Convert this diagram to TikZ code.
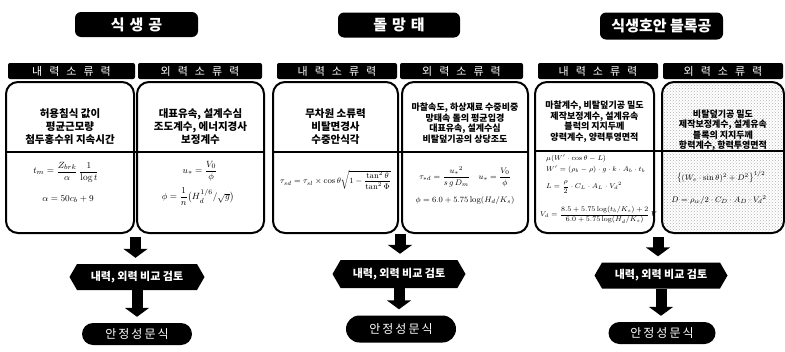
\documentclass[tikz,border=0pt]{standalone}
\usepackage{fontspec}
\usepackage{amsmath}
\newfontfamily\kr{Noto Sans CJK KR}
\usetikzlibrary{shapes.symbols,shapes.misc,calc,arrows.meta,patterns}
\newcommand\ksp{\kern7pt}
\begin{document}
\begin{tikzpicture}[x=1pt,y=-1pt,
  titlebox/.style={fill=black, rounded corners=6pt, text=white, font=\kr\bfseries\fontsize{15}{15}\selectfont, inner sep=0pt, minimum height=25pt},
  subbox/.style={fill=black, rounded corners=2pt, text=white, font=\kr\fontsize{11}{11}\selectfont, minimum height=16pt, inner sep=0pt},
  cbox/.style={draw=black, line width=2pt, rounded corners=12pt, fill=white, minimum height=151pt, inner sep=0pt},
  txt/.style={font=\kr\bfseries\fontsize{10.5}{13}\selectfont, align=center, inner sep=0pt},
  stxt/.style={font=\kr\bfseries\fontsize{9}{10.5}\selectfont, align=center, inner sep=0pt},
  fml/.style={font=\fontsize{9.5}{11}\selectfont, inner sep=0pt},
  sfml/.style={font=\fontsize{7}{8}\selectfont, inner sep=0pt, anchor=west},
  hexbox/.style={shape=signal, signal to=east and west, signal pointer angle=120, fill=black, text=white, font=\kr\bfseries\fontsize{11}{11}\selectfont, minimum height=26pt, inner sep=1pt},
  ovalbox/.style={rounded rectangle, fill=black, text=white, font=\kr\fontsize{12}{12}\selectfont, minimum height=22pt, inner sep=0pt},
  divline/.style={line width=1.6pt},
  barrow/.style={line width=11pt, -{Triangle[width=24pt,length=9pt]}, shorten >=6pt}
]
\useasboundingbox (0,0) rectangle (785,351);

% titles
\node[titlebox, minimum width=123pt] (t1) at (136.5,24.5) {식\kern5pt 생\kern5pt 공};
\node[titlebox, minimum width=122pt] (t2) at (399,25) {돌\kern5pt 망\kern5pt 태};
\node[titlebox, minimum width=123pt, minimum height=27pt] (t3) at (661.5,26) {식생호안 블록공};

% sub headers
\node[subbox, minimum width=127pt] (s1) at (71.5,71) {내\ksp 력\ksp 소\ksp 류\ksp 력};
\node[subbox, minimum width=124pt] (s2) at (200,71) {외\ksp 력\ksp 소\ksp 류\ksp 력};
\node[subbox, minimum width=120pt] (s3) at (337,71) {내\ksp 력\ksp 소\ksp 류\ksp 력};
\node[subbox, minimum width=123pt] (s4) at (461.5,71) {외\ksp 력\ksp 소\ksp 류\ksp 력};
\node[subbox, minimum width=120pt] (s5) at (598,71) {내\ksp 력\ksp 소\ksp 류\ksp 력};
\node[subbox, minimum width=120pt] (s6) at (723,71) {외\ksp 력\ksp 소\ksp 류\ksp 력};

% content boxes
\node[cbox, minimum width=128pt] (b1) at (70,157.5) {};
\node[cbox, minimum width=127pt] (b2) at (200.5,157.5) {};
\node[cbox, minimum width=125pt] (b3) at (335.5,157.5) {};
\node[cbox, minimum width=126pt] (b4) at (465,157.5) {};
\node[cbox, minimum width=119pt] (b5) at (594.5,157.5) {};
\node[cbox, minimum width=122pt, fill=none, pattern=crosshatch dots, pattern color=gray!60] (b6) at (723,157.5) {};

\coordinate (d1) at (0,152);
\coordinate (d2) at (0,151);
\draw[divline] (b1.west |- d1) -- (b2.east |- d1);
\draw[divline] (b3.west |- d1) -- (b4.east |- d1);
\draw[divline] (b5.west |- d2) -- (b6.east |- d2);

% left group texts
\node[txt] (x1) at (70,127) {허용침식 값이\\평균근모량\\첨두홍수위 지속시간};
\node[fml] (f1a) at (66,172) {$t_m=\dfrac{Z_{brk}}{\alpha}\,\dfrac{1}{\log t}$};
\node[fml] (f1b) at (68,199) {$\alpha=50c_b+9$};

\node[txt] (x2) at (200.5,127) {대표유속, 설계수심\\조도계수, 에너지경사\\보정계수};
\node[fml] (f2a) at (200,171) {$u_*=\dfrac{V_0}{\phi}$};
\node[fml] (f2b) at (198,197) {$\phi=\dfrac{1}{n}\bigl(H_d^{1/6}/\sqrt{g}\bigr)$};

% middle group texts
\node[txt] (x3) at (335.5,127) {무차원 소류력\\비탈면경사\\수중안식각};
\node[fml, font=\fontsize{8.5}{10}\selectfont] (f3a) at (335.5,180) {$\tau_{sd}=\tau_{sl}\times\cos\theta\sqrt{1-\dfrac{\tan^2\theta}{\tan^2\Phi}}$};

\node[stxt] (x4) at (465,123) {마찰속도, 하상재료 수중비중\\망태속 돌의 평균입경\\대표유속, 설계수심\\비탈덮기공의 상당조도};
\node[fml, font=\fontsize{8.5}{10}\selectfont] (f4a) at (465,177) {$\tau_{*d}=\dfrac{{u_*}^{2}}{s\,g\,D_m}\quad u_*=\dfrac{V_0}{\phi}$};
\node[fml, font=\fontsize{8.5}{10}\selectfont] (f4b) at (465,200) {$\phi=6.0+5.75\log(H_d/K_s)$};

% right group texts
\node[stxt] (x5) at (594.5,121.5) {마찰계수, 비탈덮기공 밀도\\제작보정계수, 설계유속\\블럭의 지지두께\\양력계수, 양력투영면적};
\node[sfml] (f5a) at (546,158) {$\mu(W'\cdot\cos\theta-L)$};
\node[sfml] (f5b) at (546,169) {$W'=(\rho_b-\rho)\cdot g\cdot k\cdot A_b\cdot t_b$};
\node[sfml] (f5c) at (546,187) {$L=\dfrac{\rho}{2}\cdot C_L\cdot A_L\cdot {V_d}^{2}$};
\node[sfml] (f5d) at (540,215) {$V_d=\dfrac{8.5+5.75\log(t_b/K_s)+2}{6.0+5.75\log(H_d/K_s)}\,V$};

\node[stxt] (x6) at (723,130) {비탈덮기공 밀도\\제작보정계수, 설계유속\\블록의 지지두께\\항력계수, 항력투영면적};
\node[fml, font=\fontsize{8.5}{10}\selectfont] (f6a) at (721,177) {$\bigl\{(W_e\cdot\sin\theta)^2+D^2\bigr\}^{1/2}$};
\node[fml, font=\fontsize{8.5}{10}\selectfont] (f6b) at (719,200) {$D=\rho_w/2\cdot C_D\cdot A_D\cdot {V_d}^{2}$};

% decision hexagons
\node[hexbox, minimum width=135pt] (h1) at (137,277) {내력, 외력 비교 검토};
\node[hexbox, minimum width=133pt, minimum height=28pt] (h2) at (399,274) {내력, 외력 비교 검토};
\node[hexbox, minimum width=133pt] (h3) at (661,275.5) {내력, 외력 비교 검토};

% result ovals
\node[ovalbox, minimum width=110pt] (o1) at (137,334) {안\kern2pt 정\kern2pt 성\kern2pt 문\kern2pt 식};
\node[ovalbox, minimum width=110pt, minimum height=27pt] (o2) at (401,329) {안\kern2pt 정\kern2pt 성\kern2pt 문\kern2pt 식};
\node[ovalbox, minimum width=107pt] (o3) at (662,333) {안\kern2pt 정\kern2pt 성\kern2pt 문\kern2pt 식};

% block arrows
\coordinate (a1) at ($(b1.south east)!.5!(b2.south west)+(0,3)$);
\coordinate (a2) at ($(b3.south east)!.5!(b4.south west)+(0,0)$);
\coordinate (a3) at ($(b5.south east)!.5!(b6.south west)+(0,3)$);
\draw[barrow] (a1) -- (a1 |- h1.north);
\draw[barrow] (a2) -- (a2 |- h2.north);
\draw[barrow] (a3) -- (a3 |- h3.north);
\draw[barrow] (h1.south) -- (h1.south |- o1.north);
\draw[barrow] (h2.south) -- (h2.south |- o2.north);
\draw[barrow] (h3.south) -- (h3.south |- o3.north);
\end{tikzpicture}
\end{document}
